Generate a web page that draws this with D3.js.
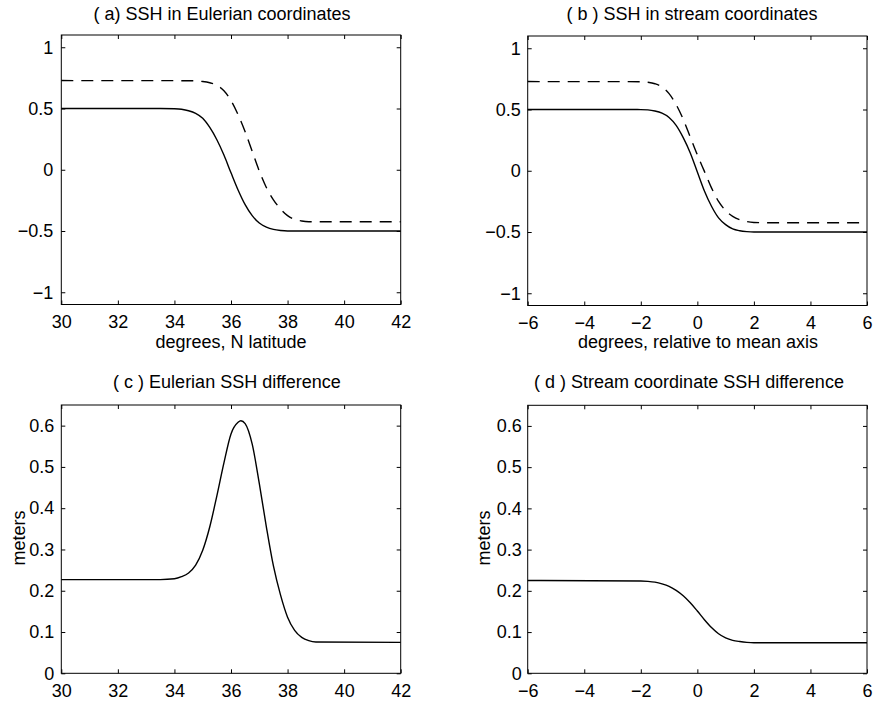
<!DOCTYPE html>
<html>
<head>
<meta charset="utf-8">
<script src="https://cdn.jsdelivr.net/npm/d3@7/dist/d3.min.js"></script>
<style>
  html, body { margin: 0; padding: 0; background: #fff; }
  svg { display: block; }
  text { font-family: "Liberation Sans", Arial, Helvetica, sans-serif; fill: #000; }
</style>
</head>
<body>
<svg id="chart" width="873" height="702"></svg>
<script>
// ---------------- DATA ----------------
// Panel (a): SSH in Eulerian coordinates (x = degrees N latitude)
const latA = [30, 33.5, 34.0, 34.25, 34.5, 34.75, 35.0, 35.25, 35.5, 35.75, 36.0, 36.25, 36.5, 36.75, 37.0, 37.25, 37.5, 37.75, 38.0, 42];
const sshA_solid = [0.5, 0.5, 0.498, 0.494, 0.482, 0.46, 0.42, 0.345, 0.245, 0.12, -0.025, -0.165, -0.285, -0.375, -0.435, -0.468, -0.487, -0.496, -0.5, -0.5];
const latA_dash = [30, 34.5, 35.0, 35.25, 35.5, 35.75, 36.0, 36.25, 36.5, 36.75, 37.0, 37.25, 37.5, 37.75, 38.0, 38.25, 38.5, 38.75, 39.0, 42];
const sshA_dash = [0.728, 0.727, 0.72, 0.71, 0.69, 0.645, 0.565, 0.45, 0.31, 0.15, -0.01, -0.145, -0.245, -0.32, -0.375, -0.405, -0.418, -0.424, -0.425, -0.425];

// Panel (b): SSH in stream coordinates (x = degrees relative to mean axis)
const relB = [-6, -2.5, -2.0, -1.75, -1.5, -1.25, -1.0, -0.75, -0.5, -0.25, 0.0, 0.25, 0.5, 0.75, 1.0, 1.25, 1.5, 1.75, 2.0, 6];
const sshB_solid = [0.5, 0.5, 0.499, 0.497, 0.488, 0.47, 0.435, 0.37, 0.27, 0.145, -0.01, -0.165, -0.29, -0.385, -0.44, -0.475, -0.49, -0.497, -0.5, -0.5];
const relB_dash = [-6, -2.0, -1.75, -1.5, -1.25, -1.0, -0.75, -0.5, -0.25, 0.0, 0.25, 0.5, 0.75, 1.0, 1.25, 1.5, 1.75, 2.0, 2.5, 6];
const sshB_dash = [0.728, 0.727, 0.722, 0.71, 0.685, 0.63, 0.54, 0.42, 0.275, 0.13, -0.005, -0.14, -0.25, -0.325, -0.372, -0.400, -0.415, -0.422, -0.425, -0.425];

// Panel (c): Eulerian SSH difference (meters)
const latC = [30, 33.5, 34.0, 34.25, 34.5, 34.75, 35.0, 35.25, 35.5, 35.75, 36.0, 36.25, 36.35, 36.5, 36.75, 37.0, 37.25, 37.5, 37.75, 38.0, 38.25, 38.5, 38.75, 39.0, 42];
const diffC = [0.227, 0.227, 0.229, 0.234, 0.243, 0.262, 0.298, 0.355, 0.43, 0.51, 0.58, 0.608, 0.612, 0.605, 0.555, 0.46, 0.355, 0.26, 0.19, 0.136, 0.104, 0.087, 0.079, 0.076, 0.075];

// Panel (d): Stream coordinate SSH difference (meters)
const relD = [-6, -2.0, -1.75, -1.5, -1.25, -1.0, -0.75, -0.5, -0.25, 0.0, 0.25, 0.5, 0.75, 1.0, 1.25, 1.5, 1.75, 2.0, 6];
const diffD = [0.225, 0.224, 0.223, 0.221, 0.217, 0.211, 0.201, 0.188, 0.171, 0.151, 0.13, 0.111, 0.096, 0.086, 0.08, 0.077, 0.075, 0.074, 0.074];

// Ticks and labels
const xTicksLat = [30, 32, 34, 36, 38, 40, 42];
const xTicksRel = [-6, -4, -2, 0, 2, 4, 6];
const xLabelsRel = ["\u22126", "\u22124", "\u22122", "0", "2", "4", "6"];
const yTicksSSH = [-1, -0.5, 0, 0.5, 1];
const yLabelsSSH = ["\u22121", "\u22120.5", "0", "0.5", "1"];
const yTicksDiff = [0, 0.1, 0.2, 0.3, 0.4, 0.5, 0.6];
const yLabelsDiff = ["0", "0.1", "0.2", "0.3", "0.4", "0.5", "0.6"];

const titles = ["( a) SSH in Eulerian coordinates", "( b ) SSH in stream coordinates",
                "( c ) Eulerian SSH difference", "( d ) Stream coordinate SSH difference"];
const xTitles = ["degrees, N latitude", "degrees, relative to mean axis", "", ""];
const yTitles = ["", "", "meters", "meters"];

// ---------------- LAYOUT ----------------
const svg = d3.select("#chart");
const FS = 18;

const panels = [
  { box: [61.3, 400.7, 35, 304.5], xd: [30, 42], yd: [-1.1, 1.1], xt: xTicksLat, xl: xTicksLat.map(String), yt: yTicksSSH, yl: yLabelsSSH,
    series: [{x: latA, y: sshA_solid, dash: null}, {x: latA_dash, y: sshA_dash, dash: "12,8"}],
    title: titles[0], titleX: 222, titleY: 20, xTitle: xTitles[0], xTitleX: 231, xTitleY: 348, yTitle: yTitles[0], pad: 8 },
  { box: [527.7, 867, 36, 305.5], xd: [-6, 6], yd: [-1.1, 1.1], xt: xTicksRel, xl: xLabelsRel, yt: yTicksSSH, yl: yLabelsSSH,
    series: [{x: relB, y: sshB_solid, dash: null}, {x: relB_dash, y: sshB_dash, dash: "12,8"}],
    title: titles[1], titleX: 692, titleY: 20, xTitle: xTitles[1], xTitleX: 698, xTitleY: 348, yTitle: yTitles[1], pad: 7 },
  { box: [61.3, 400.7, 405, 673.3], xd: [30, 42], yd: [0, 0.65], xt: xTicksLat, xl: xTicksLat.map(String), yt: yTicksDiff, yl: yLabelsDiff,
    series: [{x: latC, y: diffC, dash: null}],
    title: titles[2], titleX: 227, titleY: 388, xTitle: "", yTitle: yTitles[2], yTitleX: 25, yTitleY: 538, pad: 7 },
  { box: [527.7, 867, 405.3, 673.3], xd: [-6, 6], yd: [0, 0.65], xt: xTicksRel, xl: xLabelsRel, yt: yTicksDiff, yl: yLabelsDiff,
    series: [{x: relD, y: diffD, dash: null}],
    title: titles[3], titleX: 689, titleY: 388, xTitle: "", yTitle: yTitles[3], yTitleX: 490, yTitleY: 538, pad: 6 }
];

panels.forEach(p => {
  const [x0, x1, y0, y1] = p.box;
  const x = d3.scaleLinear().domain(p.xd).range([x0, x1]);
  const y = d3.scaleLinear().domain(p.yd).range([y1, y0]);
  const g = svg.append("g");

  // curves
  const line = d3.line().x(d => x(d[0])).y(d => y(d[1])).curve(d3.curveMonotoneX);
  p.series.forEach(s => {
    const pts = s.x.map((v, i) => [v, s.y[i]]);
    g.append("path").datum(pts)
      .attr("d", line)
      .attr("fill", "none")
      .attr("stroke", "#000")
      .attr("stroke-width", 1.4)
      .attr("stroke-dasharray", s.dash);
  });

  // axes: bottom/left with labels, top/right ticks only (all inward)
  const ax = g.append("g").attr("transform", `translate(0,${y1})`)
    .call(d3.axisBottom(x).tickValues(p.xt).tickFormat((d, i) => p.xl[i]).tickSize(-4).tickPadding(11));
  const ay = g.append("g").attr("transform", `translate(${x0},0)`)
    .call(d3.axisLeft(y).tickValues(p.yt).tickFormat((d, i) => p.yl[i]).tickSize(-4).tickPadding(p.pad));
  const at = g.append("g").attr("transform", `translate(0,${y0})`)
    .call(d3.axisTop(x).tickValues(p.xt).tickFormat("").tickSize(-4));
  const ar = g.append("g").attr("transform", `translate(${x1},0)`)
    .call(d3.axisRight(y).tickValues(p.yt).tickFormat("").tickSize(-4));
  [ax, ay, at, ar].forEach(a => {
    a.select(".domain").remove();
    a.selectAll("line").attr("stroke", "#000").attr("stroke-width", 1);
    a.selectAll("text").style("font-size", FS + "px")
      .style("font-family", '"Liberation Sans", Arial, Helvetica, sans-serif').attr("fill", "#000");
  });

  // box
  g.append("rect").attr("x", x0).attr("y", y0).attr("width", x1 - x0).attr("height", y1 - y0)
    .attr("fill", "none").attr("stroke", "#000").attr("stroke-width", 1);

  // titles
  g.append("text").attr("x", p.titleX).attr("y", p.titleY).attr("text-anchor", "middle")
    .style("font-size", FS + "px").text(p.title);
  if (p.xTitle) {
    g.append("text").attr("x", p.xTitleX).attr("y", p.xTitleY).attr("text-anchor", "middle")
      .style("font-size", FS + "px").text(p.xTitle);
  }
  if (p.yTitle) {
    g.append("text").attr("transform", `translate(${p.yTitleX},${p.yTitleY}) rotate(-90)`)
      .attr("text-anchor", "middle").style("font-size", FS + "px").text(p.yTitle);
  }
});
</script>
</body>
</html>
